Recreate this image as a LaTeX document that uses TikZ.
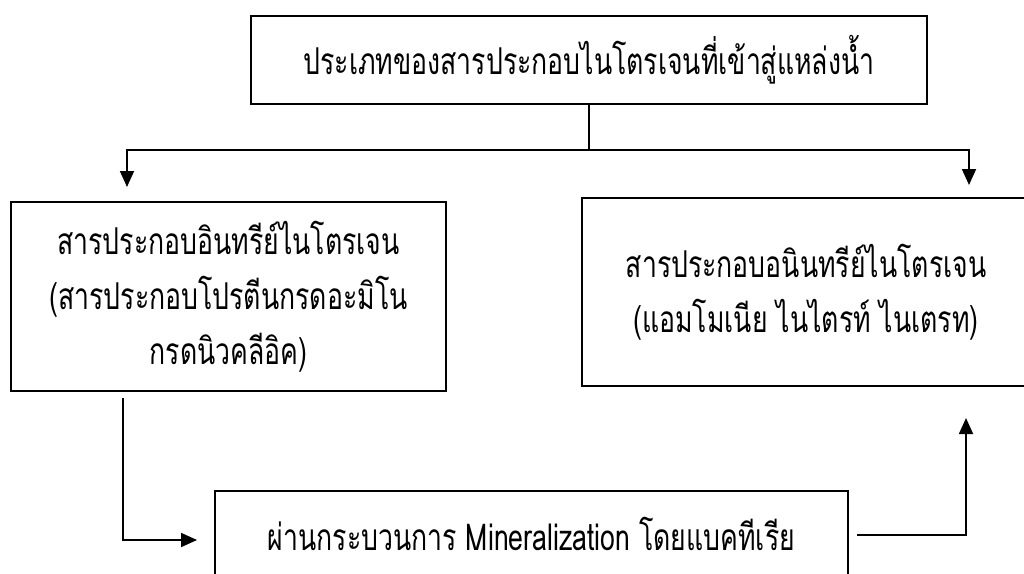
\documentclass[tikz,border=0pt]{standalone}
\usepackage{fontspec}
\newfontfamily\thaifont[Script=Thai,FakeStretch=0.72]{Loma}
\usetikzlibrary{arrows.meta}
\begin{document}
\begin{tikzpicture}[x=1pt,y=-1pt,
  box/.style={draw,line width=2.6pt,inner sep=0pt,align=center,
    font=\thaifont\fontsize{37}{55}\selectfont},
  conn/.style={line width=1.8pt},
  arr/.style={conn,-{Triangle[length=16pt,width=14pt]}}]
\useasboundingbox (0,0) rectangle (1024,573);
\clip (0,0) rectangle (1024,573);
\fill[white] (0,0) rectangle (1024,573);
\node[box,minimum width=676pt,minimum height=88pt] (top) at (589,60)
  {\raisebox{2pt}{ประเภทของสารประกอบไนโตรเจนที่เข้าสู่แหล่งน้ำ}};
\node[box,minimum width=435pt,minimum height=189pt] (left) at (228.5,296.5)
  {สารประกอบอินทรีย์ไนโตรเจน\\(สารประกอบโปรตีนกรดอะมิโน\\กรดนิวคลีอิค)};
\node[box,minimum width=448pt,minimum height=188pt,text depth=8pt] (right) at (806,292)
  {สารประกอบอนินทรีย์ไนโตรเจน\\(แอมโมเนีย ไนไตรท์ ไนเตรท)};
\node[box,minimum width=633pt,minimum height=85pt] (bot) at (531.5,533.5)
  {ผ่านกระบวนการ Mineralization โดยแบคทีเรีย};
\coordinate (jn) at (589,150);
\coordinate (ltip) at (127,187);
\coordinate (rtip) at (969,185);
\coordinate (lstart) at (123,398);
\coordinate (btip) at (197,540);
\coordinate (rstart) at (857,535);
\coordinate (utip) at (966,418);
\draw[conn] (top.south) -- (jn);
\draw[arr] (jn) -| (ltip);
\draw[arr] (jn) -| (rtip);
\draw[arr] (lstart) |- (btip);
\draw[arr] (rstart) -| (utip);
\end{tikzpicture}
\end{document}
